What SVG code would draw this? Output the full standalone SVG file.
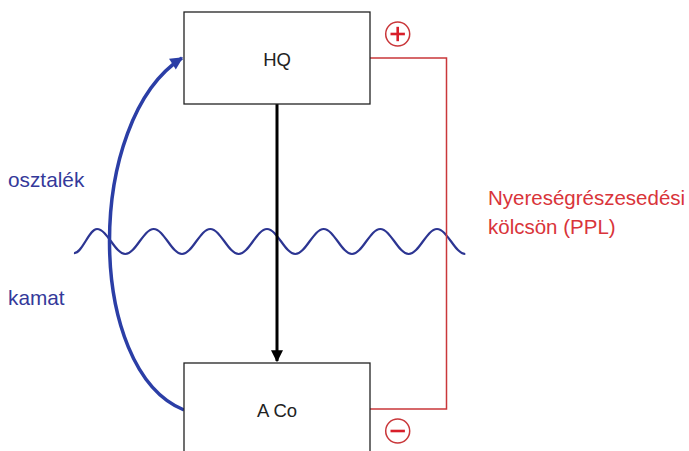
<svg xmlns="http://www.w3.org/2000/svg" width="689" height="451" viewBox="0 0 689 451">
<defs>
<marker id="blueHead" viewBox="0 0 10 10" refX="9" refY="5" markerWidth="4" markerHeight="3.6" markerUnits="strokeWidth" orient="auto">
<path d="M0,0 L10,5 L0,10 z" fill="#2b3ea6"/>
</marker>
<marker id="blackHead" viewBox="0 0 10 10" refX="9" refY="5" markerWidth="4.2" markerHeight="4" markerUnits="strokeWidth" orient="auto">
<path d="M0,0 L10,5 L0,10 z" fill="#000"/>
</marker>
<style>
.box{fill:#fff;stroke:#222;stroke-width:1.3}
.lbl{font-family:"Liberation Sans",Arial,sans-serif;fill:#222;text-anchor:middle;font-size:18.5px}
.blue{font-family:"Liberation Sans",Arial,sans-serif;fill:#34399a;font-size:20.8px}
.red{font-family:"Liberation Sans",Arial,sans-serif;fill:#d9343a;font-size:20.5px}
.redline{fill:none;stroke:#c9373a;stroke-width:1.5}
.sign{fill:none;stroke:#c9373a;stroke-width:1.5}
.signbar{stroke:#d81e2a;stroke-width:2.6}
</style>
</defs>
<rect width="689" height="451" fill="#fff"/>
<g id="wave">
<path d="M74,253 C82,254 89,229 97,229 C107.3,229 115,254 125.3,254 S143.4,229 153.7,229 S171.7,254 182,254 S200,229 210.3,229 S228.4,254 238.7,254 S256.7,229 267,229 S285,254 295.3,254 S313.4,229 323.7,229 S341.7,254 352,254 S370,229 380.3,229 S398.4,254 408.7,254 S426.7,229 437,229 S455,254 465.3,254" fill="none" stroke="#2c3592" stroke-width="2.2"/>
</g>
<g id="connectors">
<path class="redline" d="M370,58 H446.5 V409 H370"/>
<line x1="277" y1="104" x2="277" y2="361" stroke="#000" stroke-width="3" marker-end="url(#blackHead)"/>
<path d="M184,410 C85,370 85,120 182,58" fill="none" stroke="#2b3ea6" stroke-width="3.5" marker-end="url(#blueHead)"/>
</g>
<g id="HQ">
<rect class="box" x="184" y="12" width="186" height="92"/>
<text class="lbl" x="277" y="66">HQ</text>
</g>
<g id="ACo">
<rect class="box" x="184" y="363" width="186" height="100"/>
<text class="lbl" x="277" y="417">A Co</text>
</g>
<g id="plus">
<circle class="sign" cx="397.7" cy="34" r="12"/>
<line class="signbar" x1="390.5" y1="34" x2="404.9" y2="34"/>
<line class="signbar" x1="397.7" y1="26.8" x2="397.7" y2="41.2"/>
</g>
<g id="minus">
<circle class="sign" cx="397.7" cy="431" r="12"/>
<line class="signbar" x1="390.5" y1="431" x2="404.9" y2="431"/>
</g>
<g id="labels">
<text class="blue" x="8" y="187">osztalék</text>
<text class="blue" x="8" y="305">kamat</text>
<text class="red" x="488" y="205">Nyereségrészesedési</text>
<text class="red" x="488" y="234">kölcsön (PPL)</text>
</g>
</svg>
